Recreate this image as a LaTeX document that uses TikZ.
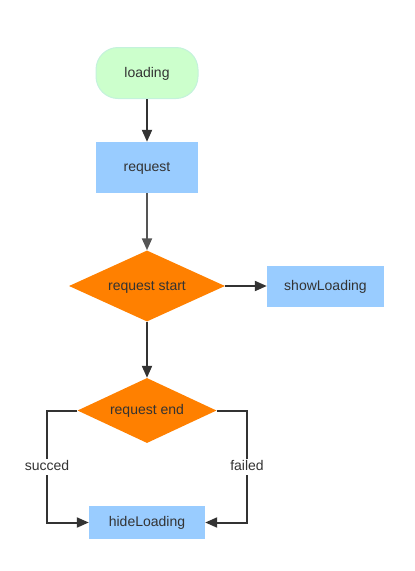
\documentclass[tikz,border=0pt]{standalone}
\usepackage{fontspec}
\setmainfont{Liberation Sans}
\usetikzlibrary{shapes.geometric,arrows.meta}
\definecolor{txt}{HTML}{333333}
\definecolor{lgreen}{HTML}{CCFFCC}
\definecolor{lgreenb}{HTML}{C4F2DC}
\definecolor{lblue}{HTML}{99CCFF}
\definecolor{orng}{HTML}{FF8000}
\definecolor{ln}{HTML}{333333}
\definecolor{ln2}{HTML}{555555}
\begin{document}
\begin{tikzpicture}[x=1pt,y=-1pt,
  every node/.style={font=\fontsize{14}{16}\selectfont, text=txt, text height=10pt, text depth=2pt},
  term/.style={rounded corners=22pt, fill=lgreen, draw=lgreenb, line width=1pt, minimum width=102pt, minimum height=51pt, inner sep=0pt},
  proc/.style={fill=lblue, draw=none, inner sep=0pt},
  dec/.style={diamond, fill=orng, draw=none, inner sep=0pt, aspect=2},
  conn/.style={draw=ln, line width=2pt, -{Triangle[length=12pt,width=10pt]}},
  lbl/.style={fill=white, inner sep=2pt}]
\useasboundingbox (0,0) rectangle (415,571);
\node[term] (loading) at (147,73) {loading};
\node[proc, minimum width=102pt, minimum height=51pt] (request) at (147,167.5) {request};
\node[dec, minimum width=156pt, minimum height=71pt] (rstart) at (147,286) {request start};
\node[proc, minimum width=117pt, minimum height=41pt] (show) at (325.5,286) {showLoading};
\node[dec, minimum width=139pt, minimum height=65pt] (rend) at (147,410.5) {request end};
\node[proc, minimum width=116pt, minimum height=33pt] (hide) at (147,522.5) {hideLoading};
\coordinate (lt) at (47,410.5);
\coordinate (lb) at (47,522.5);
\coordinate (rt) at (247,410.5);
\coordinate (rb) at (247,522.5);
\draw[conn] (loading) -- (request);
\draw[conn, draw=ln2] (request) -- (rstart);
\draw[conn] (rstart) -- (show);
\draw[conn] (rstart) -- (rend);
\draw[conn] (rend.west) -- (lt) -- node[lbl] {succed} (lb) -- (hide.west);
\draw[conn] (rend.east) -- (rt) -- node[lbl] {failed} (rb) -- (hide.east);
\end{tikzpicture}
\end{document}
